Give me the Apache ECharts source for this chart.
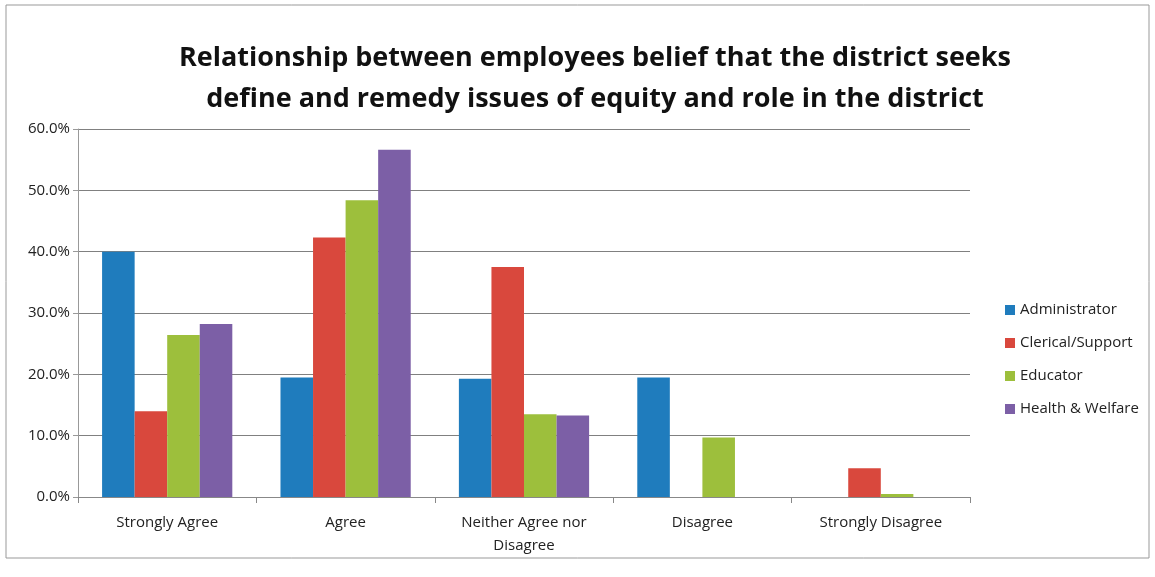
<!DOCTYPE html>
<html>
<head>
<meta charset="utf-8">
<script src="https://cdn.jsdelivr.net/npm/echarts@6/dist/echarts.min.js"></script>
<style>
  html, body { margin: 0; padding: 0; background: #fff; }
  #chart { width: 1155px; height: 577px; }
</style>
</head>
<body>
<div id="chart"></div>
<script>
const categories = ['Strongly Agree', 'Agree', 'Neither Agree nor\nDisagree', 'Disagree', 'Strongly Disagree']
const yTicks = [0, 10, 20, 30, 40, 50, 60]
const administrator = [40.0, 19.5, 19.3, 19.5, 0]
const clerical = [14.0, 42.3, 37.5, 0, 4.7]
const educator = [26.4, 48.4, 13.5, 9.7, 0.5]
const health = [28.2, 56.6, 13.3, 0, 0]

const colors = ['#1f7cbd', '#d9483d', '#9dbf3c', '#7c5fa6']
const font = '"Open Sans", "Liberation Sans", sans-serif'

let myChart = echarts.init(document.getElementById('chart'))

function bar(name, data) {
  return {
    name: name,
    type: 'bar',
    data: data,
    barGap: '0%',
    barCategoryGap: '27%'
  }
}

let options = {
  color: colors,
  animation: false,
  title: {
    text: 'Relationship between employees belief that the district seeks\ndefine and remedy issues of equity and role in the district',
    left: 590,
    textAlign: 'center',
    top: 33,
    textStyle: {
      fontFamily: font,
      fontWeight: 'bold',
      fontSize: 27,
      lineHeight: 41,
      color: '#111'
    }
  },
  legend: {
    orient: 'vertical',
    left: 1000,
    top: 295,
    itemWidth: 10,
    itemHeight: 10,
    itemGap: 13,
    icon: 'rect',
    textStyle: { fontFamily: font, fontSize: 15, color: '#222', lineHeight: 20 },
    data: ['Administrator', 'Clerical/Support', 'Educator', 'Health & Welfare']
  },
  grid: { left: 78, right: 185, top: 129, bottom: 80 },
  xAxis: {
    type: 'category',
    data: categories,
    axisLine: { lineStyle: { color: '#888' } },
    axisTick: { show: true, length: 6, lineStyle: { color: '#888' } },
    axisLabel: { fontFamily: font, fontSize: 15, color: '#222', margin: 14, lineHeight: 23 }
  },
  yAxis: {
    type: 'value',
    min: yTicks[0],
    max: yTicks[yTicks.length - 1],
    interval: 10,
    axisLine: { show: true, lineStyle: { color: '#999' } },
    axisTick: { show: true, length: 5, lineStyle: { color: '#999' } },
    axisLabel: { fontFamily: font, fontSize: 15, color: '#222', formatter: v => v.toFixed(1) + '%' },
    splitLine: { lineStyle: { color: '#808080' } }
  },
  graphic: [{
    type: 'rect',
    shape: { x: 6, y: 5, width: 1143, height: 553 },
    style: { fill: 'none', stroke: '#999', lineWidth: 1 },
    silent: true,
    z: -1
  }],
  series: [
    bar('Administrator', administrator),
    bar('Clerical/Support', clerical),
    bar('Educator', educator),
    bar('Health & Welfare', health)
  ]
}

myChart.setOption(options)
</script>
</body>
</html>
